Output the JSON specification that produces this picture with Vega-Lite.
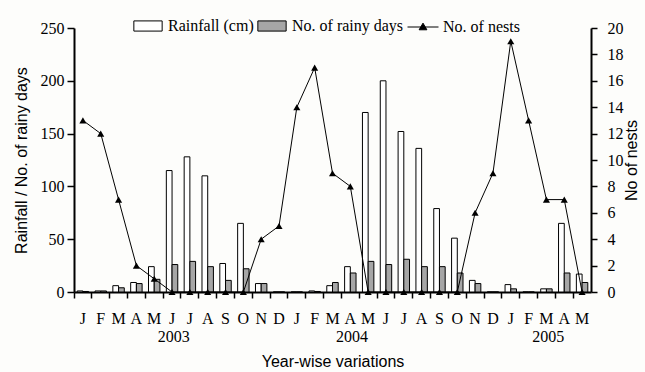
{
  "$schema": "https://vega.github.io/schema/vega-lite/v6.json",
  "width": 517,
  "height": 264,
  "autosize": {"type": "none"},
  "padding": {"left": 74, "top": 28, "right": 54, "bottom": 80},
  "background": "#fdfdfb",
  "config": {
    "view": {"stroke": null},
    "axis": {
      "labelFont": "Liberation Serif",
      "labelFontSize": 16,
      "labelColor": "black",
      "titleFont": "Liberation Sans",
      "titleFontSize": 16,
      "titleFontWeight": "normal",
      "titleColor": "black",
      "domainColor": "black",
      "domainWidth": 2,
      "tickColor": "black",
      "tickWidth": 1.5,
      "grid": false
    },
    "legend": {
      "labelFont": "Liberation Serif",
      "labelFontSize": 16,
      "labelColor": "black",
      "padding": 0
    }
  },
  "datasets": {
    "main": [
      {"month": "Jan 2003", "rain": 1, "days": 0.5, "nests": 13},
      {"month": "Feb 2003", "rain": 1, "days": 1, "nests": 12},
      {"month": "Mar 2003", "rain": 6, "days": 4, "nests": 7},
      {"month": "Apr 2003", "rain": 9, "days": 8, "nests": 2},
      {"month": "May 2003", "rain": 24, "days": 12, "nests": 1},
      {"month": "Jun 2003", "rain": 115, "days": 26, "nests": 0},
      {"month": "Jul 2003", "rain": 128, "days": 29, "nests": 0},
      {"month": "Aug 2003", "rain": 110, "days": 24, "nests": 0},
      {"month": "Sep 2003", "rain": 27, "days": 11, "nests": 0},
      {"month": "Oct 2003", "rain": 65, "days": 22, "nests": 0},
      {"month": "Nov 2003", "rain": 8, "days": 8, "nests": 4},
      {"month": "Dec 2003", "rain": 0, "days": 0, "nests": 5},
      {"month": "Jan 2004", "rain": 0, "days": 0, "nests": 14},
      {"month": "Feb 2004", "rain": 1, "days": 0.5, "nests": 17},
      {"month": "Mar 2004", "rain": 6, "days": 9, "nests": 9},
      {"month": "Apr 2004", "rain": 24, "days": 18, "nests": 8},
      {"month": "May 2004", "rain": 170, "days": 29, "nests": 0},
      {"month": "Jun 2004", "rain": 200, "days": 26, "nests": 0},
      {"month": "Jul 2004", "rain": 152, "days": 31, "nests": 0},
      {"month": "Aug 2004", "rain": 136, "days": 24, "nests": 0},
      {"month": "Sep 2004", "rain": 79, "days": 24, "nests": 0},
      {"month": "Oct 2004", "rain": 51, "days": 18, "nests": 0},
      {"month": "Nov 2004", "rain": 11, "days": 8, "nests": 6},
      {"month": "Dec 2004", "rain": 0, "days": 0, "nests": 9},
      {"month": "Jan 2005", "rain": 7, "days": 3, "nests": 19},
      {"month": "Feb 2005", "rain": 0, "days": 0, "nests": 13},
      {"month": "Mar 2005", "rain": 3, "days": 3, "nests": 7},
      {"month": "Apr 2005", "rain": 65, "days": 18, "nests": 7},
      {"month": "May 2005", "rain": 17, "days": 9, "nests": 0}
    ],
    "years": [
      {"month": "Jun 2003", "year": "2003"},
      {"month": "Apr 2004", "year": "2004"},
      {"month": "Mar 2005", "year": "2005"}
    ]
  },
  "layer": [
    {
      "data": {"name": "main"},
      "layer": [
        {
          "transform": [{"fold": ["rain", "days"], "as": ["series", "value"]}],
          "mark": {"type": "bar", "stroke": "black", "strokeWidth": 1},
          "encoding": {
            "x": {
              "field": "month",
              "type": "nominal",
              "title": "Year-wise variations",
              "scale": {
                "domain": ["Jan 2003","Feb 2003","Mar 2003","Apr 2003","May 2003","Jun 2003","Jul 2003","Aug 2003","Sep 2003","Oct 2003","Nov 2003","Dec 2003","Jan 2004","Feb 2004","Mar 2004","Apr 2004","May 2004","Jun 2004","Jul 2004","Aug 2004","Sep 2004","Oct 2004","Nov 2004","Dec 2004","Jan 2005","Feb 2005","Mar 2005","Apr 2005","May 2005"],
                "paddingInner": 0,
                "paddingOuter": 0
              },
              "axis": {
                "labelExpr": "substring(datum.value, 0, 1)",
                "labelAngle": 0,
                "bandPosition": 0,
                "labelOffset": 0,
                "tickSize": 6,
                "labelPadding": 12,
                "titlePadding": 27
              }
            },
            "xOffset": {
              "field": "series",
              "type": "nominal",
              "scale": {"domain": ["rain", "days"], "paddingInner": 0, "paddingOuter": 0.56}
            },
            "y": {
              "field": "value",
              "type": "quantitative",
              "title": "Rainfall / No. of rainy days",
              "scale": {"domain": [0, 250], "nice": false},
              "axis": {
                "values": [0, 50, 100, 150, 200, 250],
                "tickSize": 7,
                "labelPadding": 3,
                "titlePadding": 11
              }
            },
            "fill": {
              "field": "series",
              "type": "nominal",
              "scale": {"domain": ["rain", "days"], "range": ["#ffffff", "#a6a6a6"]},
              "legend": {
                "title": null,
                "orient": "none",
                "direction": "horizontal",
                "legendX": 59,
                "legendY": -17,
                "symbolType": "M-1,-0.36H1V0.36H-1Z",
                "symbolSize": 800,
                "symbolStrokeColor": "black",
                "symbolStrokeWidth": 1,
                "labelOffset": 5,
                "columnPadding": 1,
                "labelExpr": "datum.value == 'rain' ? 'Rainfall (cm)' : 'No. of rainy days'"
              }
            }
          }
        },
        {
          "data": {"name": "years"},
          "mark": {"type": "text", "font": "Liberation Serif", "fontSize": 16, "baseline": "middle", "align": "center", "color": "black"},
          "encoding": {
            "x": {"field": "month", "type": "nominal", "bandPosition": 0.6, "title": "Year-wise variations"},
            "y": {"datum": -43, "type": "quantitative"},
            "text": {"field": "year"}
          }
        }
      ]
    },
    {
      "data": {"name": "main"},
      "mark": {
        "type": "line",
        "color": "black",
        "strokeWidth": 1,
        "point": {"shape": "triangle-up", "filled": true, "size": 50, "color": "black", "opacity": 1}
      },
      "encoding": {
        "x": {"field": "month", "type": "nominal", "title": "Year-wise variations"},
        "y": {
          "field": "nests",
          "type": "quantitative",
          "title": "No of nests",
          "scale": {"domain": [0, 20], "nice": false},
          "axis": {
            "orient": "right",
            "values": [0, 2, 4, 6, 8, 10, 12, 14, 16, 18, 20],
            "tickSize": 6,
            "labelPadding": 10,
            "titleAngle": 270,
            "titlePadding": 16
          }
        },
        "color": {
          "datum": "No. of nests",
          "scale": {"range": ["black"]},
          "legend": {
            "title": null,
            "orient": "none",
            "legendX": 333,
            "legendY": -17,
            "symbolType": "M-1,0H1M0,-0.25L0.25,0.18H-0.25Z",
            "symbolSize": 961,
            "symbolStrokeColor": "black",
            "symbolFillColor": "black",
            "symbolStrokeWidth": 1,
            "labelOffset": 4
          }
        }
      }
    }
  ],
  "resolve": {"scale": {"y": "independent"}}
}
